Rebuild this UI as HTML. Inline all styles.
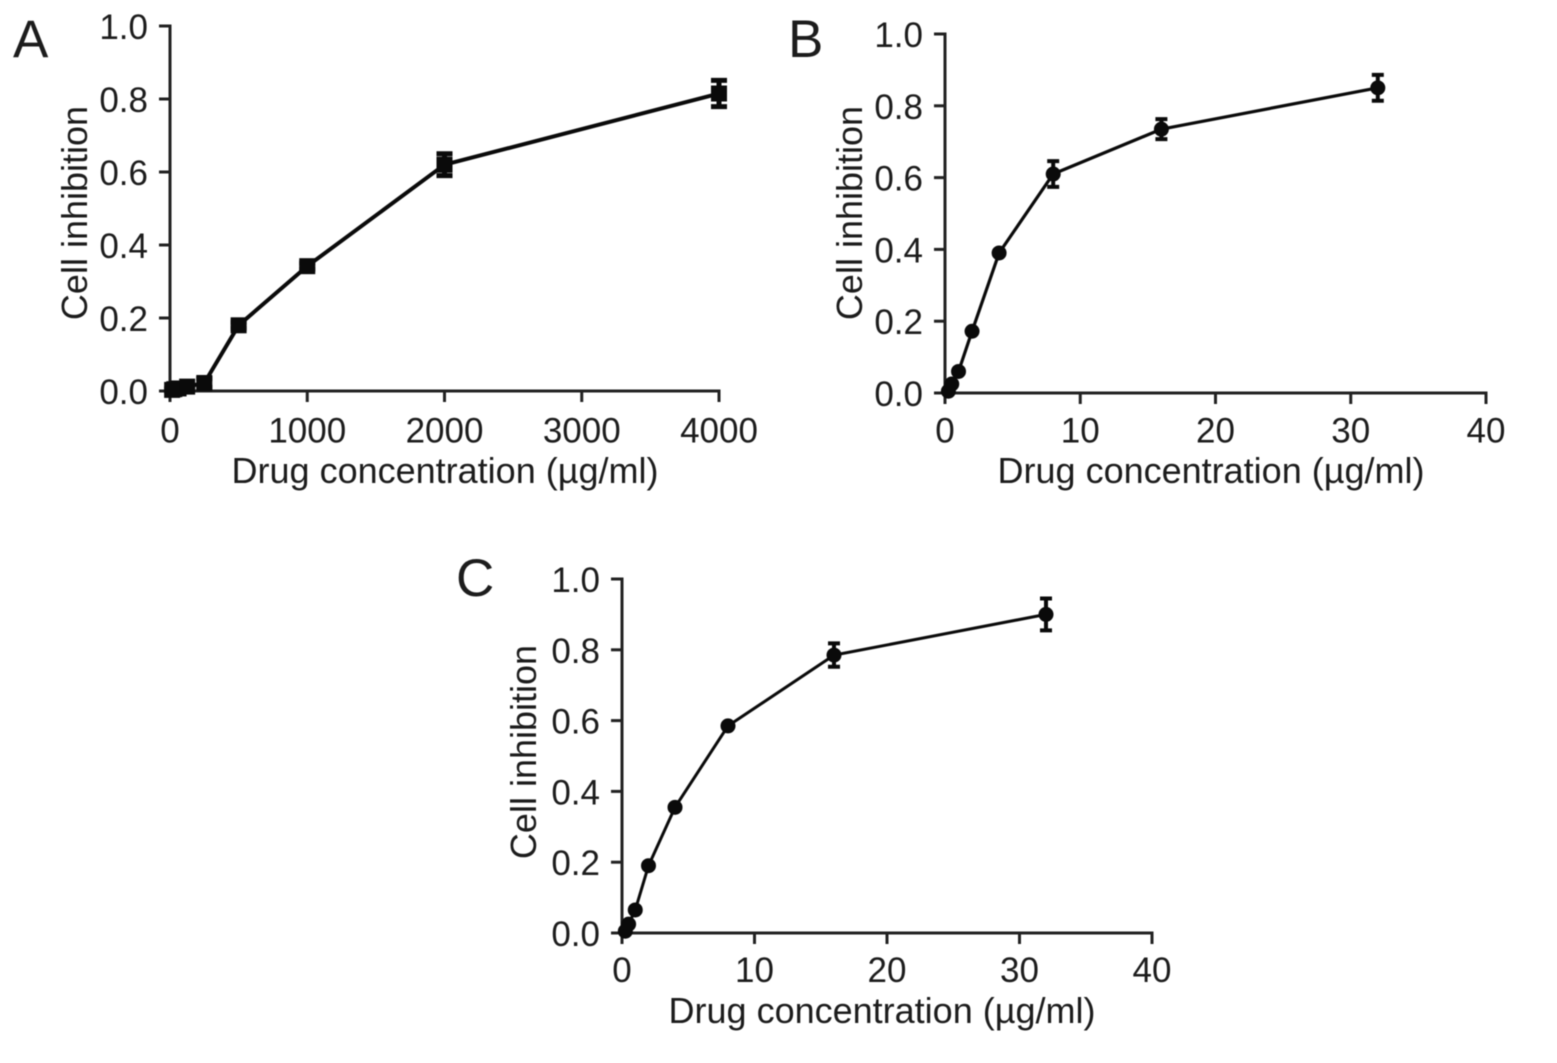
<!DOCTYPE html>
<html lang="en">
<head>
<meta charset="utf-8">
<title>Cell inhibition vs. drug concentration</title>
<style>
html,body{margin:0;padding:0;background:#fff;}
svg{display:block;filter:blur(0.6px);}
text{font-family:"Liberation Sans",sans-serif;fill:#1c1c1c;}
</style>
</head>
<body>
<svg id="figure" xmlns="http://www.w3.org/2000/svg" width="1557" height="1063" viewBox="0 0 1557 1063"></svg>
<script>
const yTickLabels = ["0.0", "0.2", "0.4", "0.6", "0.8", "1.0"];
const xTicksA = [0, 1000, 2000, 3000, 4000];
const xTicksB = [0, 10, 20, 30, 40];
const xTicksC = [0, 10, 20, 30, 40];

const concentrationA = [15.6, 31.25, 62.5, 125, 250, 500, 1000, 2000, 4000];
const inhibitionA = [0.003, 0.005, 0.007, 0.012, 0.022, 0.18, 0.342, 0.62, 0.815];
const errorA = [0.003, 0.003, 0.003, 0.004, 0.012, 0.008, 0.008, 0.03, 0.036];

const concentrationB = [0.25, 0.5, 1, 2, 4, 8, 16, 32];
const inhibitionB = [0.005, 0.025, 0.06, 0.172, 0.39, 0.61, 0.735, 0.85];
const errorB = [0.002, 0.002, 0.003, 0.003, 0.003, 0.036, 0.028, 0.036];

const concentrationC = [0.25, 0.5, 1, 2, 4, 8, 16, 32];
const inhibitionC = [0.005, 0.025, 0.065, 0.19, 0.355, 0.585, 0.785, 0.90];
const errorC = [0.002, 0.002, 0.003, 0.003, 0.003, 0.003, 0.033, 0.045];

const svgNS = "http://www.w3.org/2000/svg";
const figure = document.getElementById("figure");
const INK = "#0a0a0a";

function make(parent, tag, props, content) {
  const el = document.createElementNS(svgNS, tag);
  for (const key in props) el.setAttribute(key, props[key]);
  if (content !== undefined) el.textContent = content;
  parent.appendChild(el);
  return el;
}

function drawPanel(p) {
  const sx = v => p.left + (v / p.xMax) * (p.right - p.left);
  const sy = v => p.bottom - v * (p.bottom - p.top);

  const group = make(figure, "g", {});
  
  

  const letter = make(group, "text", {x: p.letterX, y: p.letterY, "font-size": 53}, p.letter);
  
  

  const axes = make(group, "g", {stroke: "#222", "stroke-width": 3, fill: "none"});
  
  

  const yAxis = make(axes, "line", {x1: sx(0), x2: sx(0), y1: sy(1) - 1.5, y2: p.bottom + 11});
  
  

  const xAxis = make(axes, "line", {x1: p.left - 11, x2: p.right + 1.5, y1: p.bottom, y2: p.bottom});
  
  

  yTickLabels.forEach(label => {
    const y = sy(parseFloat(label));
    const tick = make(axes, "line", {x1: p.left - 11, x2: p.left, y1: y, y2: y});
    
    
    const text = make(group, "text", {x: p.left - 22, y: y + 13, "font-size": 35, "text-anchor": "end"}, label);
    
    
  });

  p.xTicks.forEach(value => {
    const x = sx(value);
    const tick = make(axes, "line", {x1: x, x2: x, y1: p.bottom, y2: p.bottom + 11});
    
    
    const text = make(group, "text", {x: x, y: p.bottom + p.xLabelDy, "font-size": 35, "text-anchor": "middle"}, String(value));
    
    
  });

  const xTitle = make(group, "text", {x: p.xTitleX, y: p.bottom + p.xTitleDy, "font-size": 36, "text-anchor": "middle"}, "Drug concentration (\u00B5g/ml)");
  
  

  const yTitle = make(group, "text", {transform: "translate(" + p.yTitleX + " " + p.yTitleY + ") rotate(-90)", "font-size": 36, "text-anchor": "middle"}, "Cell inhibition");
  
  

  const points = p.xs.map((x, i) => sx(x) + "," + sy(p.ys[i])).join(" ");
  const line = make(group, "polyline", {points: points, fill: "none", stroke: INK, "stroke-width": p.lineWidth, "stroke-linejoin": "round"});
  
  

  p.xs.forEach((x, i) => {
    const cx = sx(x);
    const cy = sy(p.ys[i]);
    const hi = sy(p.ys[i] + p.errs[i]);
    const lo = sy(p.ys[i] - p.errs[i]);
    const capHalf = p.capHalf;
    const bar = make(group, "path", {
      d: "M" + cx + " " + hi + "V" + lo + "M" + (cx - capHalf) + " " + hi + "H" + (cx + capHalf) + "M" + (cx - capHalf) + " " + lo + "H" + (cx + capHalf),
      stroke: INK, "stroke-width": p.barWidth, fill: "none"
    });
    
    
    let marker;
    if (p.marker === "square") {
      marker = make(group, "rect", {x: cx - 8, y: cy - 8, width: 16, height: 16, fill: INK});
    } else {
      marker = make(group, "circle", {cx: cx, cy: cy, r: 7.5, fill: INK});
    }
    
    
  });
}

drawPanel({letter: "A", letterX: 13, letterY: 57, left: 170, right: 719, top: 26, bottom: 391, xMax: 4000,
  xTicks: xTicksA, xs: concentrationA, ys: inhibitionA, errs: errorA, marker: "square", lineWidth: 4, capHalf: 8, barWidth: 5,
  xLabelDy: 51.5, xTitleDy: 92, xTitleX: 445, yTitleX: 87, yTitleY: 213});
drawPanel({letter: "B", letterX: 788, letterY: 57, left: 945, right: 1486, top: 34, bottom: 393, xMax: 40,
  xTicks: xTicksB, xs: concentrationB, ys: inhibitionB, errs: errorB, marker: "circle", lineWidth: 3.2, capHalf: 6, barWidth: 4,
  xLabelDy: 49.5, xTitleDy: 90, xTitleX: 1211, yTitleX: 862, yTitleY: 213});
drawPanel({letter: "C", letterX: 456, letterY: 596, left: 622, right: 1152, top: 579, bottom: 933, xMax: 40,
  xTicks: xTicksC, xs: concentrationC, ys: inhibitionC, errs: errorC, marker: "circle", lineWidth: 3, capHalf: 6, barWidth: 4,
  xLabelDy: 49, xTitleDy: 90, xTitleX: 882, yTitleX: 536, yTitleY: 752});
</script>
</body>
</html>
